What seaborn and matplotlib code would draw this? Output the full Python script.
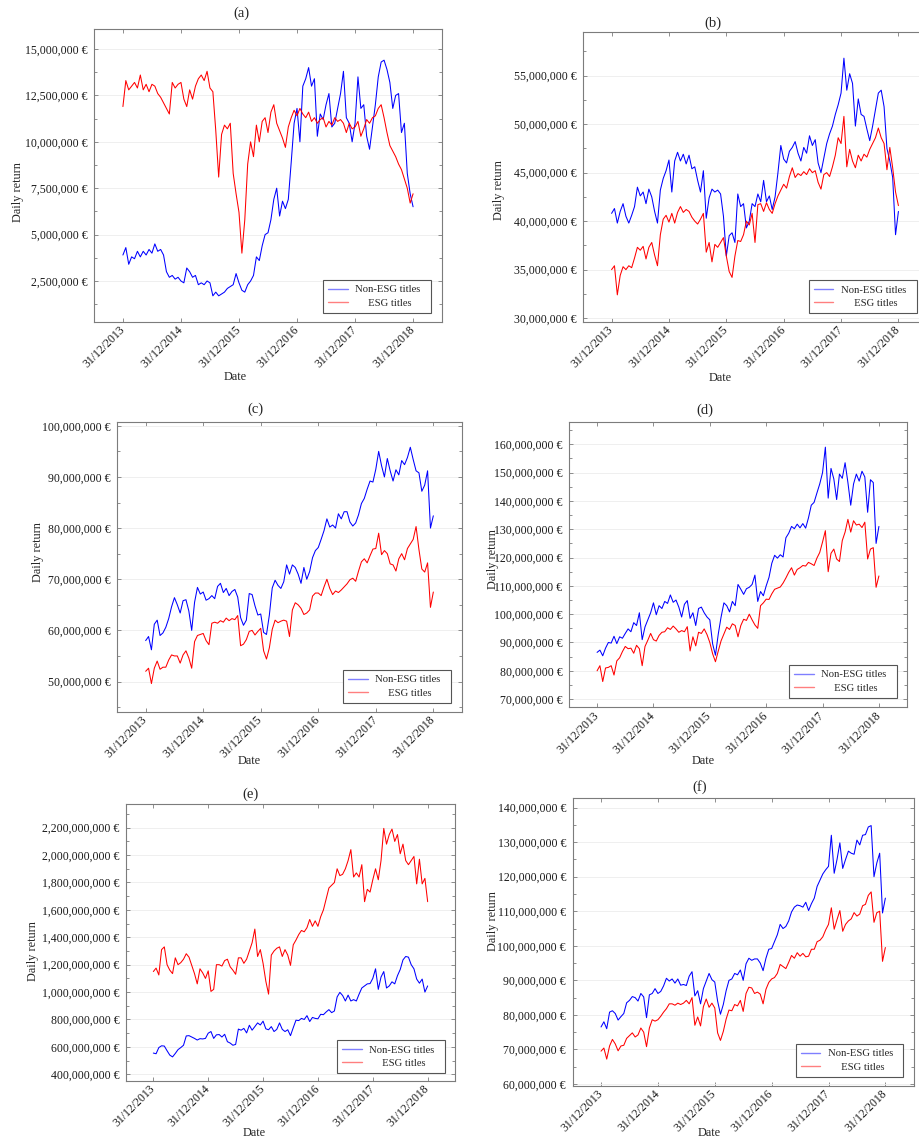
import matplotlib
matplotlib.use("Agg")
import matplotlib.pyplot as plt
from matplotlib.lines import Line2D
from matplotlib.ticker import FuncFormatter, MultipleLocator
import numpy as np
import pandas as pd
import seaborn as sns

sns.set_style("ticks")
plt.rcParams["font.family"] = ["Liberation Serif", "DejaVu Serif"]

# ---------------------------------------------------------------- labels
SERIES = ["Non-ESG titles", "ESG titles"]
LEGEND_LABELS = ["Non-ESG titles  ", "     ESG titles"]
COLORS = {"Non-ESG titles": "#0000ff", "ESG titles": "#ff0000"}
PANEL_TITLES = ["(a)", "(b)", "(c)", "(d)", "(e)", "(f)"]
TICK_DATES = ["2013-12-31", "2014-12-31", "2015-12-31",
              "2016-12-31", "2017-12-31", "2018-12-31"]
TICK_LABELS = ["31/12/2013", "31/12/2014", "31/12/2015",
               "31/12/2016", "31/12/2017", "31/12/2018"]
Y_LABEL = "Daily return"
X_LABEL = "Date"

# ---------------------------------------------------------------- data
# Portfolio value in millions of euro, one value every 0.05 year
# from 31/12/2013 to 31/12/2018.
a_non_esg = [3.9, 4.3, 3.4, 3.8, 3.7, 4.1, 3.8, 4.1, 3.9, 4.2,
             4.0, 4.5, 4.1, 4.2, 3.9, 3.0, 2.7, 2.8, 2.6, 2.7,
             2.5, 2.4, 3.2, 3.0, 2.7, 2.8, 2.3, 2.4, 2.3, 2.5,
             2.4, 1.7, 1.9, 1.7, 1.8, 1.9, 2.1, 2.2, 2.3, 2.9,
             2.4, 2.0, 1.9, 2.3, 2.5, 2.8, 3.8, 3.6, 4.4, 5.0,
             5.1, 5.8, 6.9, 7.5, 6.0, 6.8, 6.4, 6.9, 8.9, 11.0,
             11.8, 10.0, 13.0, 13.4, 14.0, 13.0, 13.4, 10.3, 11.5, 11.2,
             12.0, 12.6, 10.8, 11.0, 11.8, 12.6, 13.8, 11.3, 11.0, 10.0,
             11.0, 13.5, 11.8, 12.0, 10.3, 9.6, 10.8, 12.0, 13.5, 14.3,
             14.4, 13.9, 13.2, 11.8, 12.5, 12.6, 10.5, 11.0, 8.3, 7.2,
             6.5]
a_esg = [11.9, 13.3, 12.8, 13.0, 13.2, 12.9, 13.6, 12.8, 13.1, 12.7,
         13.1, 13.0, 12.6, 12.4, 12.1, 11.8, 11.5, 13.2, 12.9, 13.1,
         13.2, 12.3, 11.9, 12.8, 12.3, 13.0, 13.4, 13.6, 13.3, 13.8,
         12.9, 12.7, 10.6, 8.1, 10.4, 10.9, 10.7, 11.0, 8.3, 7.2,
         6.2, 4.0, 5.8, 8.8, 10.0, 9.2, 10.9, 10.0, 11.1, 11.3,
         10.5, 11.6, 12.0, 11.0, 10.6, 10.2, 9.7, 10.8, 11.3, 11.7,
         11.4, 11.8, 11.5, 11.3, 11.6, 11.1, 11.3, 11.0, 11.2, 11.3,
         10.8, 11.1, 10.9, 11.3, 11.1, 11.2, 11.0, 10.5, 11.0, 10.7,
         10.8, 11.1, 10.3, 10.7, 11.2, 11.0, 11.3, 11.4, 11.8, 12.0,
         11.3, 10.5, 9.8, 9.5, 9.2, 8.8, 8.5, 8.0, 7.5, 6.7,
         7.2]

b_non_esg = [40.8, 41.3, 39.8, 41.0, 41.8, 40.5, 39.8, 40.6, 41.5, 43.5,
             42.6, 43.0, 41.8, 43.3, 42.5, 41.0, 39.8, 43.2, 44.4, 45.2,
             46.3, 43.0, 46.2, 47.1, 46.2, 46.9, 45.9, 46.8, 45.4, 45.6,
             44.2, 43.0, 45.2, 40.3, 42.4, 43.3, 43.0, 43.2, 42.8, 40.5,
             36.4, 38.5, 38.8, 37.8, 42.8, 41.5, 41.8, 39.3, 40.0, 41.8,
             41.5, 42.8, 42.0, 44.2, 42.0, 42.6, 41.2, 42.5, 45.0, 47.8,
             46.4, 46.0, 47.2, 47.6, 48.2, 47.0, 46.2, 47.6, 47.0, 48.8,
             47.8, 48.4, 46.0, 45.0, 46.5, 48.0, 49.0, 49.8, 51.0, 52.0,
             53.2, 56.8, 53.5, 55.2, 54.2, 49.8, 52.6, 51.0, 50.8, 49.5,
             48.3, 49.8, 51.5, 53.2, 53.5, 51.8, 47.5, 46.2, 44.5, 38.6,
             41.0]
b_esg = [35.0, 35.4, 32.4, 34.4, 35.3, 35.0, 35.4, 35.2, 36.2, 37.3,
         37.0, 37.4, 36.1, 37.3, 37.8, 36.5, 35.4, 38.6, 40.2, 40.6,
         39.9, 40.8, 39.8, 40.9, 41.5, 40.9, 41.2, 41.0, 40.4, 40.0,
         39.7, 40.2, 40.8, 36.8, 37.8, 35.8, 37.6, 37.3, 37.8, 38.3,
         36.4, 34.8, 34.2, 36.4, 38.0, 37.9, 38.6, 40.0, 39.6, 40.8,
         37.8, 41.7, 41.8, 41.0, 41.9, 41.2, 40.8, 41.8, 42.6, 43.2,
         43.8, 43.4, 44.6, 45.5, 44.5, 44.9, 44.7, 45.1, 44.8, 45.4,
         45.0, 45.2, 44.0, 43.3, 44.8, 45.0, 44.6, 45.6, 46.8, 48.6,
         48.0, 50.8, 45.6, 47.4, 46.2, 45.5, 46.8, 46.2, 46.9, 46.6,
         47.4, 48.0, 48.6, 49.6, 48.6, 48.0, 45.3, 47.6, 45.5, 43.0,
         41.6]

c_non_esg = [58.0, 58.8, 56.2, 61.2, 62.0, 59.0, 59.5, 60.6, 62.3, 64.6,
             66.4, 65.0, 63.4, 65.8, 66.0, 63.8, 60.0, 65.5, 68.4, 67.1,
             67.5, 65.9, 66.2, 66.8, 66.2, 68.6, 69.2, 67.4, 68.2, 66.8,
             67.6, 68.0, 66.5, 62.5, 61.0, 62.0, 67.2, 67.0, 64.8, 63.0,
             63.2, 59.6, 59.2, 63.0, 68.3, 69.8, 68.8, 68.2, 69.5, 72.8,
             71.0, 72.8, 72.3, 71.0, 69.2, 72.3, 70.0, 71.5, 74.2, 75.6,
             76.2, 77.8, 79.5, 81.8, 80.2, 80.6, 80.0, 82.8, 81.8, 83.2,
             83.2, 81.2, 80.4, 81.0, 82.6, 84.8, 85.8, 87.6, 89.2, 89.0,
             91.5, 95.0, 92.2, 90.0, 93.6, 91.2, 89.2, 91.4, 90.4, 93.2,
             92.4, 93.8, 95.8, 93.4, 91.2, 90.8, 87.2, 88.4, 91.2, 80.0,
             82.4]
c_esg = [52.0, 52.6, 49.6, 52.6, 54.0, 52.4, 52.8, 52.8, 54.2, 55.2,
         55.0, 55.0, 53.6, 55.2, 56.0, 54.6, 52.6, 57.8, 59.0, 59.2,
         59.4, 58.0, 57.2, 61.4, 61.6, 61.4, 61.9, 61.6, 62.4, 61.9,
         62.3, 62.1, 62.9, 57.0, 57.3, 58.2, 59.8, 60.0, 59.1, 59.8,
         60.4, 56.0, 54.4, 56.6, 60.2, 62.0, 61.5, 61.8, 62.0, 61.8,
         58.8, 64.0, 65.4, 65.0, 64.3, 63.1, 63.4, 64.0, 66.7, 67.3,
         67.3, 66.8, 68.5, 70.0, 68.2, 67.0, 67.7, 67.4, 67.9, 68.5,
         69.1, 69.9, 70.2, 69.6, 71.6, 73.4, 74.0, 73.2, 74.6, 75.9,
         76.0, 79.0, 74.8, 75.6, 75.0, 73.0, 72.8, 71.6, 74.0, 75.0,
         73.8, 76.0, 76.9, 77.8, 80.3, 75.8, 72.0, 71.4, 73.2, 64.5,
         67.5]

d_non_esg = [86.5, 87.3, 85.3, 88.0, 90.0, 89.8, 92.2, 89.6, 92.0, 91.5,
             93.2, 94.8, 93.8, 97.0, 96.0, 100.5, 91.0, 95.5, 98.0, 100.5,
             104.0, 99.8, 103.0, 102.0, 104.5, 103.8, 106.8, 104.2, 105.0, 102.5,
             99.0, 103.5, 104.8, 98.5, 100.5, 96.0, 102.0, 102.5, 100.5, 99.0,
             98.0, 89.5, 85.5, 93.0, 99.0, 104.0, 103.0, 100.8, 104.5, 103.0,
             110.5, 108.8, 107.0, 109.0, 109.5, 110.5, 113.8, 104.5, 108.0, 106.5,
             110.0, 113.0, 118.0, 120.8, 119.8, 121.0, 120.2, 127.0, 128.6, 131.0,
             130.2, 131.8, 130.5, 132.0, 130.4, 134.0, 138.5, 139.5, 142.8, 146.0,
             150.0, 159.0, 141.0, 151.5, 147.8, 140.5, 149.5, 148.0, 153.5, 146.5,
             138.5, 146.0, 149.5, 147.0, 150.5, 148.5, 136.0, 147.5, 146.5, 125.0,
             131.0]
d_esg = [80.0, 81.8, 76.2, 81.0, 81.2, 81.8, 78.5, 83.5, 84.6, 86.8,
         88.6, 87.8, 88.0, 86.2, 89.0, 87.8, 81.8, 88.6, 90.8, 93.2,
         91.0, 90.5, 92.5, 93.6, 93.8, 95.2, 94.6, 95.8, 94.8, 93.6,
         94.2, 93.8, 95.6, 87.0, 92.0, 88.8, 93.6, 93.2, 94.8, 92.8,
         90.0, 86.0, 83.2, 87.0, 90.6, 93.0, 95.4, 94.6, 96.6, 96.0,
         92.0, 96.0, 98.2, 97.8, 100.0, 98.0, 96.2, 95.0, 103.0, 104.0,
         105.3, 105.2, 107.2, 108.8, 109.2, 109.6, 111.0, 112.8, 114.8, 116.4,
         113.8, 115.8, 116.4, 117.2, 117.0, 118.3, 117.8, 117.2, 119.8, 121.8,
         125.5, 129.5, 115.0, 121.5, 123.0, 119.5, 118.6, 126.0, 129.0, 133.5,
         129.0, 133.0, 131.5, 131.8, 130.6, 132.5, 119.5, 123.0, 123.5, 109.5,
         113.5]

e_non_esg = [555, 550, 595, 608, 606, 572, 540, 527, 552, 580,
             595, 612, 680, 682, 672, 662, 650, 660, 658, 662,
             700, 712, 662, 688, 690, 672, 692, 638, 628, 612,
             618, 730, 722, 735, 702, 758, 722, 748, 775, 760,
             788, 732, 725, 748, 712, 728, 775, 728, 712, 725,
             682, 740, 795, 792, 808, 800, 828, 785, 815, 808,
             805, 838, 835, 855, 872, 850, 862, 965, 998, 975,
             935, 978, 935, 945, 935, 985, 1030, 1045, 1060, 1062,
             1100, 1170, 1020, 1110, 1150, 1030, 1045, 1075, 1060, 1120,
             1165, 1235, 1260, 1255, 1200, 1170, 1095, 1065, 1095, 1000,
             1045]
e_esg = [1150, 1175, 1125, 1310, 1330, 1200, 1160, 1135, 1250, 1200,
         1215, 1240, 1280, 1255, 1195, 1135, 1060, 1170, 1140, 1100,
         1155, 1005, 1020, 1200, 1200, 1190, 1230, 1240, 1185, 1160,
         1130, 1250, 1250, 1210, 1240, 1300, 1360, 1460, 1260, 1310,
         1210, 1080, 985, 1270, 1300, 1320, 1330, 1260, 1310, 1270,
         1195, 1345, 1380, 1420, 1450, 1440, 1470, 1530, 1480, 1520,
         1480, 1550, 1600, 1680, 1760, 1780, 1800, 1900, 1850, 1860,
         1900, 1960, 2040, 1840, 1870, 1840, 1930, 1660, 1750, 1730,
         1820, 1900, 1820, 1960, 2195, 2080, 2150, 2190, 2100, 2150,
         2010, 2080, 1960, 1930, 1960, 1990, 1790, 1970, 1790, 1830,
         1660]

f_non_esg = [76.5, 78.0, 76.0, 80.8, 81.2, 80.4, 78.5, 79.5, 80.4, 83.5,
             84.2, 85.3, 85.0, 84.0, 86.2, 85.2, 79.2, 85.8, 86.2, 87.6,
             86.2, 86.8, 88.4, 90.6, 89.8, 90.4, 89.2, 90.4, 88.6, 88.8,
             88.5, 91.2, 92.5, 85.5, 87.0, 83.2, 87.6, 89.8, 92.0, 90.2,
             89.5, 84.0, 80.2, 83.0, 87.0, 90.0, 90.4, 92.0, 91.6, 93.0,
             90.0, 94.8, 96.4, 95.8, 96.2, 96.2, 95.0, 92.8, 96.4, 99.0,
             99.2, 101.2, 103.2, 106.2, 105.0, 105.6, 107.2, 109.8, 111.2, 111.8,
             111.6, 111.2, 112.6, 110.2, 112.2, 113.8, 117.2, 119.0, 120.8, 122.0,
             123.0, 132.0, 121.0, 125.0, 129.8, 122.4, 125.0, 127.4, 126.8, 126.5,
             130.6, 129.2, 132.0, 132.2, 134.4, 134.8, 120.0, 124.0, 126.8, 109.5,
             113.8]
f_esg = [69.5, 70.4, 67.2, 71.0, 72.9, 71.6, 69.6, 71.0, 71.2, 73.2,
         74.0, 74.8, 73.6, 74.2, 76.2, 75.0, 70.8, 76.2, 78.6, 78.2,
         78.6, 79.6, 80.8, 81.8, 83.2, 83.2, 82.8, 83.4, 83.0, 83.4,
         84.2, 83.2, 85.0, 77.0, 79.4, 76.8, 82.4, 84.6, 82.2, 83.4,
         82.0, 74.8, 72.6, 75.2, 78.8, 81.4, 81.2, 83.0, 82.6, 84.2,
         81.0, 86.2, 88.0, 87.8, 86.2, 86.6, 86.0, 83.2, 87.4, 89.4,
         90.4, 90.8, 92.0, 94.6, 94.0, 93.4, 95.2, 97.2, 96.4, 98.0,
         97.0, 97.8, 96.8, 97.0, 99.0, 99.0, 101.2, 101.6, 102.6, 104.6,
         106.2, 111.0, 104.8, 107.6, 110.2, 104.2, 106.2, 107.2, 107.8, 109.6,
         108.6, 109.2, 111.6, 112.0, 114.6, 115.6, 106.8, 109.6, 110.0, 95.5,
         99.5]

PANEL_DATA = [(a_non_esg, a_esg), (b_non_esg, b_esg), (c_non_esg, c_esg),
              (d_non_esg, d_esg), (e_non_esg, e_esg), (f_non_esg, f_esg)]

# ---------------------------------------------------------------- layout
W, H = 920, 1140
# axes box in pixels: left, right, top, bottom
AX_BOX = [(94, 442, 29, 322), (583, 927, 32, 322),
          (117, 462, 421.7, 711.7), (569, 907, 421.7, 707.3),
          (126, 455, 804, 1081), (572.7, 913.7, 798.3, 1085.7)]
Y_LIMITS = [(0.29e6, 16.08e6), (29.6e6, 59.5e6), (44.1e6, 100.8e6),
            (67.1e6, 168e6), (351e6, 2373e6), (59.5e6, 142.7e6)]
Y_STEPS = [2.5e6, 5e6, 10e6, 10e6, 200e6, 10e6]
TITLE_POS = [(241, 13), (713, 23), (255, 409), (705, 410), (251, 794), (700, 787)]
YLABEL_POS = [(18, 192), (499, 190), (38, 552), (493, 559), (33, 951), (493, 921)]
XLABEL_POS = [(235, 377), (720, 378), (249, 761), (703, 761), (254, 1133), (709, 1133)]
LEGEND_CORNER = [(431, 313), (916.7, 313.3), (451, 703), (897, 698),
                 (445, 1073.3), (903.3, 1077)]

SAMPLE_DATES = pd.date_range("2013-12-31", "2018-12-31", periods=len(a_esg))
MILLION = 1e6
SPINE = "#7c7c7c"
LINE_WIDTH = 0.75


def fx(px):
    return px / W


def fy(py):
    return 1 - py / H


euro = FuncFormatter(lambda v, pos: f"{v:,.0f} \u20ac")
legend_handles = [Line2D([], [], color=COLORS[s], linewidth=1.0, alpha=0.5)
                  for s in SERIES]

fig = plt.figure(figsize=(W / 100, H / 100), dpi=100)

for k, (non_esg, esg) in enumerate(PANEL_DATA):
    left, right, top, bottom = AX_BOX[k]
    ax = fig.add_axes([fx(left), fy(bottom), (right - left) / W, (bottom - top) / H])

    frame = pd.DataFrame({
        "date": np.tile(SAMPLE_DATES, 2),
        "value": np.concatenate([non_esg, esg]) * MILLION,
        "series": np.repeat(SERIES, len(SAMPLE_DATES)),
    })
    sns.lineplot(data=frame, x="date", y="value", hue="series",
                 hue_order=SERIES, palette=COLORS, linewidth=LINE_WIDTH,
                 estimator=None, sort=False, legend=False, ax=ax)

    ax.set_xlim(pd.Timestamp("2013-07-02"), pd.Timestamp("2019-07-01"))
    ax.set_xticks(pd.to_datetime(TICK_DATES))
    ax.set_xticklabels(TICK_LABELS, rotation=45, ha="right", va="center",
                       rotation_mode="anchor")
    ax.set_ylim(*Y_LIMITS[k])
    ax.yaxis.set_major_locator(MultipleLocator(Y_STEPS[k]))
    ax.yaxis.set_minor_locator(MultipleLocator(Y_STEPS[k] / 2))
    ax.yaxis.set_major_formatter(euro)
    ax.set_xlabel("")
    ax.set_ylabel("")

    ax.grid(axis="y", which="major", color="#ececec", linewidth=0.6)
    ax.set_axisbelow(True)
    for spine in ax.spines.values():
        spine.set_color(SPINE)
        spine.set_linewidth(0.8)
    ax.tick_params(which="both", direction="in", top=True, right=True,
                   color=SPINE, width=0.6, labelsize=8.5, labelcolor="#1a1a1a")
    ax.tick_params(which="major", length=3)
    ax.tick_params(which="minor", length=2)
    ax.tick_params(axis="x", which="minor", bottom=False, top=False)
    ax.tick_params(axis="y", pad=4.8)
    ax.tick_params(axis="x", pad=4.5)

    rx, by = LEGEND_CORNER[k]
    leg = ax.legend(legend_handles, LEGEND_LABELS, loc="lower right",
                    bbox_to_anchor=(fx(rx), fy(by)), bbox_transform=fig.transFigure,
                    borderaxespad=0, fontsize=7.7, frameon=True, fancybox=False,
                    edgecolor="#555555", framealpha=1, handlelength=1.8,
                    handletextpad=0.72, borderpad=0.48, labelspacing=0.37)
    leg.get_frame().set_linewidth(0.8)

    tx, ty = TITLE_POS[k]
    fig.text(fx(tx), fy(ty), PANEL_TITLES[k], ha="center", va="center", fontsize=10.5)
    lx, ly = YLABEL_POS[k]
    fig.text(fx(lx), fy(ly), Y_LABEL, rotation=90, ha="center", va="center", fontsize=8.8)
    dx, dy = XLABEL_POS[k]
    fig.text(fx(dx), fy(dy), X_LABEL, ha="center", va="center", fontsize=8.8)

fig.savefig("out.png", dpi=100)
